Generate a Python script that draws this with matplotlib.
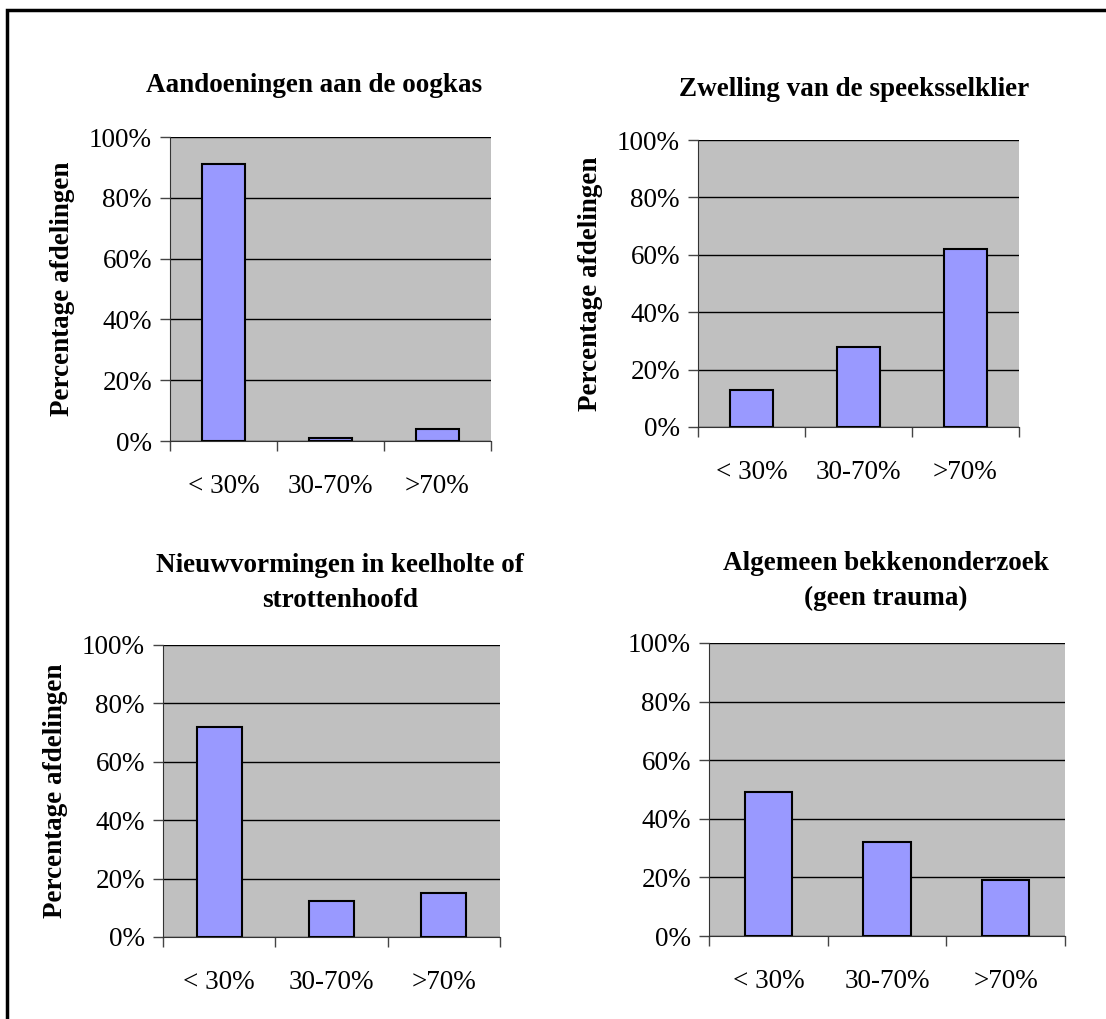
import matplotlib
matplotlib.use("Agg")
import matplotlib.pyplot as plt
from matplotlib.patches import Rectangle

plt.rcParams['font.family'] = ['Liberation Serif', 'DejaVu Serif']

categories = ["< 30%", "30-70%", ">70%"]
titles = [
    "Aandoeningen aan de oogkas",
    "Zwelling van de speeksselklier",
    "Nieuwvormingen in keelholte of\nstrottenhoofd",
    "Algemeen bekkenonderzoek\n(geen trauma)",
]
oogkas = [91, 1, 4]
speekselklier = [13, 28, 62]
keelholte = [72, 12.5, 15]
bekken = [49, 32, 19]
series = [oogkas, speekselklier, keelholte, bekken]
ylabel = "Percentage afdelingen"
yticks = [0, 20, 40, 60, 80, 100]
show_ylabel = [True, True, True, False]

W, H = 1106, 1019
fig = plt.figure(figsize=(W / 100, H / 100), dpi=100)

# panel boxes in pixels: left, right, top, bottom
boxes = [
    (170, 491, 137, 441),
    (698, 1019, 140, 427),
    (163, 500, 645, 937),
    (709, 1065, 643, 936),
]
# title centres in pixels (x, y)
title_pos = [(314, 85), (854, 90), (340, 583), (886, 581)]

for i, (l, r, t, b) in enumerate(boxes):
    ax = fig.add_axes([l / W, 1 - b / H, (r - l) / W, (b - t) / H])
    ax.set_facecolor("#C0C0C0")
    ax.bar(range(3), series[i], width=0.4, color="#9999FF",
           edgecolor="black", linewidth=1.5, zorder=3)
    ax.set_xlim(-0.5, 2.5)
    ax.set_ylim(0, 100)
    ax.set_yticks(yticks)
    ax.set_yticklabels([f"{v}%" for v in yticks], fontsize=19.5)
    ax.yaxis.grid(True, color="black", linewidth=1.0, zorder=1)
    ax.set_axisbelow(True)
    ax.set_xticks([-0.5, 0.5, 1.5, 2.5])
    ax.set_xticklabels([])
    ax.set_xticks([0, 1, 2], minor=True)
    ax.set_xticklabels(categories, minor=True, fontsize=19.5)
    ax.tick_params(axis="x", which="minor", length=0, pad=24)
    ax.tick_params(axis="x", which="major", length=7, width=1, color="#444444")
    ax.tick_params(axis="y", which="major", length=7, width=1, color="#444444", pad=6)
    for s in ("top", "right"):
        ax.spines[s].set_visible(False)
    ax.spines["left"].set_color("#333333")
    ax.spines["bottom"].set_color("#333333")
    if show_ylabel[i]:
        ax.set_ylabel(ylabel, fontsize=19.5, fontweight="bold", labelpad=10)
    tx, ty = title_pos[i]
    fig.text(tx / W, 1 - ty / H, titles[i], ha="center", va="center",
             fontsize=19.5, fontweight="bold", linespacing=1.5)

# outer frame
fig.patches.append(Rectangle((7 / W, -0.01), 1.2, 1 - 10 / H + 0.01,
                             transform=fig.transFigure, fill=False,
                             edgecolor="black", linewidth=2.5))

fig.savefig("out.png", dpi=100)
